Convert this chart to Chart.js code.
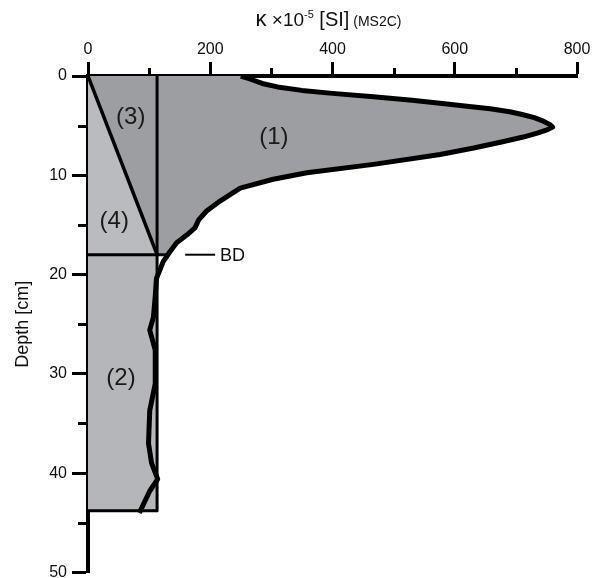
<!DOCTYPE html>
<html><head><meta charset="utf-8">
<script src="https://cdn.jsdelivr.net/npm/chart.js@4.4.0/dist/chart.umd.min.js"></script>
<style>html,body{margin:0;padding:0;background:#fff;overflow:hidden;}#wrap{width:594px;height:578px;overflow:hidden;}</style>
</head><body><div id="wrap"><canvas id="c" width="594" height="587"></canvas></div>
<script>
// ---- data (kappa x10^-5 SI vs depth cm) ----
const curveKappa = [250, 265, 285, 310, 350, 400, 467, 530, 576, 620, 658, 690, 712, 730, 745, 756, 760, 752, 735, 712, 680, 631, 576, 467, 358, 303, 249, 216, 194, 181, 175, 162, 145, 134, 123, 112, 110, 107, 101, 110, 110, 101, 99, 104, 114, 101, 84];
const curveDepth = [0, 0.3, 0.75, 1.1, 1.45, 1.75, 2.1, 2.45, 2.75, 3.05, 3.3, 3.6, 3.9, 4.2, 4.55, 4.9, 5.15, 5.4, 5.75, 6.15, 6.6, 7.25, 7.9, 8.9, 9.75, 10.4, 11.3, 12.6, 13.6, 14.5, 15.3, 16.0, 16.8, 17.7, 18.7, 20.4, 22.2, 24.3, 25.6, 27.6, 31.0, 33.7, 37.0, 39.0, 40.6, 41.8, 44.0];
const baseKappa = 113;      // constant background value
const bdDepth = 18;         // BD boundary depth
const bottomDepth = 43.8;   // bottom of sampled column
const xTickValues = [0, 200, 400, 600, 800];
const xMinorValues = [100, 300, 500, 700];
const yTickValues = [0, 10, 20, 30, 40, 50];
const yMinorValues = [5, 15, 25, 35, 45];
const regionLabels = ['(1)', '(2)', '(3)', '(4)'];
const regionLabelKappa = [304, 54, 70, 43];
const regionLabelDepth = [6.2, 30.5, 4.2, 14.6];
const bdLabel = 'BD';
const bdMarkKappa = [159, 208];
const bdTextKappa = 216;

// ---- derived shapes ----
const pts = (xs, ys) => xs.map((x, i) => ({x: x, y: ys[i]}));
const curvePts = pts(curveKappa, curveDepth);
let bdCross = baseKappa;
for (let i = 1; i < curveDepth.length; i++) {
  if (curveDepth[i - 1] <= bdDepth && curveDepth[i] >= bdDepth) {
    const t = (bdDepth - curveDepth[i - 1]) / (curveDepth[i] - curveDepth[i - 1]);
    bdCross = curveKappa[i - 1] + t * (curveKappa[i] - curveKappa[i - 1]);
    break;
  }
}
const region1 = [{x: baseKappa, y: 0}].concat(curvePts.filter(p => p.y < bdDepth), [{x: bdCross, y: bdDepth}, {x: baseKappa, y: bdDepth}]);
const region3 = [{x: 0, y: 0}, {x: baseKappa, y: 0}, {x: baseKappa, y: bdDepth}];
const region4 = [{x: 0, y: 0}, {x: 0, y: bdDepth}, {x: baseKappa, y: bdDepth}];
const region2 = [{x: 0, y: bdDepth}, {x: baseKappa, y: bdDepth}, {x: baseKappa, y: bottomDepth}, {x: 0, y: bottomDepth}];

const FONT = "'Liberation Sans', Arial, Helvetica, sans-serif";
const DARK = '#9c9ea2', LIGHT4 = '#b9bbbe', LIGHT2 = '#b4b6b9';

function lineDs(data, w, order) {
  return {data: data, showLine: true, borderColor: '#000', borderWidth: w, pointRadius: 0, fill: false, tension: 0, order: order, borderJoinStyle: 'round', borderCapStyle: 'butt'};
}
function fillDs(data, color, order) {
  return {data: data, showLine: true, borderColor: 'rgba(0,0,0,0)', borderWidth: 0, backgroundColor: color, pointRadius: 0, fill: 'shape', tension: 0, order: order};
}

const extras = {
  id: 'extras',
  afterDatasetsDraw(chart) {
    const ctx = chart.ctx, xs = chart.scales.x, ys = chart.scales.y;
    ctx.save();
    ctx.strokeStyle = '#000';
    ctx.lineWidth = 3;
    xMinorValues.forEach(v => {
      const px = Math.round(xs.getPixelForValue(v)) + 0.5;
      ctx.beginPath(); ctx.moveTo(px, ys.top); ctx.lineTo(px, ys.top - 8); ctx.stroke();
    });
    yMinorValues.forEach(v => {
      const py = Math.round(ys.getPixelForValue(v)) + 0.5;
      ctx.beginPath(); ctx.moveTo(xs.left, py); ctx.lineTo(xs.left - 10, py); ctx.stroke();
    });
    ctx.fillStyle = '#1a1a1a';
    ctx.font = '24px ' + FONT;
    ctx.textAlign = 'center';
    ctx.textBaseline = 'middle';
    regionLabels.forEach((t, i) => {
      ctx.fillText(t, xs.getPixelForValue(regionLabelKappa[i]), ys.getPixelForValue(regionLabelDepth[i]));
    });
    const by = ys.getPixelForValue(bdDepth);
    ctx.lineWidth = 2;
    ctx.beginPath(); ctx.moveTo(xs.getPixelForValue(bdMarkKappa[0]), by); ctx.lineTo(xs.getPixelForValue(bdMarkKappa[1]), by); ctx.stroke();
    ctx.font = '18px ' + FONT;
    ctx.textAlign = 'left';
    ctx.fillStyle = '#111';
    ctx.fillText(bdLabel, xs.getPixelForValue(bdTextKappa), by + 1);
    const parts = [
      {t: '\u03BA', f: '22px ' + FONT, dy: 0},
      {t: ' \u00D710', f: '19px ' + FONT, dy: 0},
      {t: '-5', f: '11px ' + FONT, dy: -8},
      {t: ' [SI]', f: '20px ' + FONT, dy: 0},
      {t: ' (MS2C)', f: '14px ' + FONT, dy: 0}
    ];
    let total = 0;
    parts.forEach(p => { ctx.font = p.f; p.w = ctx.measureText(p.t).width; total += p.w; });
    let x0 = (xs.left + xs.right) / 2 - total / 2 - 4;
    ctx.textBaseline = 'alphabetic';
    ctx.fillStyle = '#111';
    parts.forEach(p => { ctx.font = p.f; ctx.fillText(p.t, x0, 26 + p.dy); x0 += p.w; });
    ctx.restore();
  }
};

new Chart(document.getElementById('c'), {
  type: 'scatter',
  data: {datasets: [
    lineDs(curvePts, 5, 1),
    lineDs([{x: 0, y: 0}, {x: baseKappa, y: bdDepth}], 3.5, 2),
    lineDs([{x: baseKappa, y: 0}, {x: baseKappa, y: bottomDepth}], 3, 2),
    lineDs([{x: 0, y: bdDepth}, {x: bdCross, y: bdDepth}], 3, 2),
    lineDs([{x: 0, y: bottomDepth}, {x: baseKappa, y: bottomDepth}], 3, 2),
    fillDs(region1, DARK, 10),
    fillDs(region3, DARK, 11),
    fillDs(region4, LIGHT4, 12),
    fillDs(region2, LIGHT2, 13)
  ]},
  options: {
    responsive: false,
    animation: false,
    devicePixelRatio: 1,
    layout: {padding: {left: 0, top: 0, right: 17, bottom: 0}},
    plugins: {legend: {display: false}, tooltip: {enabled: false}, title: {display: false}},
    scales: {
      x: {
        type: 'linear', position: 'top', min: 0, max: 800,
        afterBuildTicks: s => { s.ticks = xTickValues.map(v => ({value: v})); },
        afterFit: s => { s.height = 76; },
        ticks: {font: {family: FONT, size: 16}, color: '#111', padding: 3, maxRotation: 0},
        grid: {drawOnChartArea: false, drawTicks: true, tickLength: 14, tickWidth: 3, tickColor: '#000', color: '#000'},
        border: {display: true, width: 4, color: '#000'}
      },
      y: {
        type: 'linear', position: 'left', reverse: true, min: 0, max: 50,
        afterBuildTicks: s => { s.ticks = yTickValues.map(v => ({value: v})); },
        afterFit: s => { s.width = 88; },
        ticks: {font: {family: FONT, size: 16}, color: '#111', padding: 5},
        grid: {drawOnChartArea: false, drawTicks: true, tickLength: 16, tickWidth: 3, tickColor: '#000', color: '#000'},
        border: {display: true, width: 4, color: '#000'},
        title: {display: true, text: 'Depth [cm]', font: {family: FONT, size: 18}, color: '#111', padding: {top: 12, bottom: 0}}
      }
    }
  },
  plugins: [extras]
});
</script>
</body></html>
